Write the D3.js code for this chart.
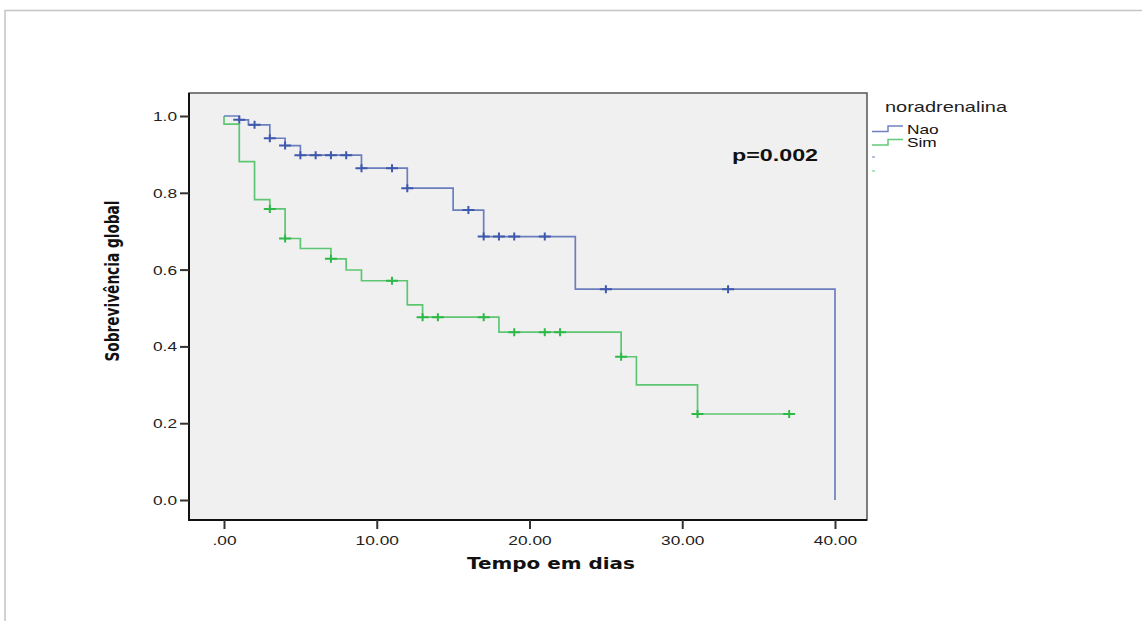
<!DOCTYPE html>
<html>
<head>
<meta charset="utf-8">
<script src="https://cdn.jsdelivr.net/npm/d3@7"></script>
<style>
  body { margin: 0; background: #fff; }
  svg { display: block; }
</style>
</head>
<body>
<div id="chart"></div>
<script>
// Kaplan-Meier steps: [time, survival after the event]
const naoSteps = [[0, 1.0], [1, 0.99], [1.6, 0.977], [3, 0.942], [4, 0.923], [5, 0.898],
                  [9, 0.864], [12, 0.812], [15, 0.755], [17, 0.686], [23, 0.549], [40, 0.0]];
const naoCensored = [1, 2, 3, 4, 5, 6, 7, 8, 9, 11, 12, 16, 17, 18, 19, 21, 25, 33];

const simSteps = [[0, 1.0], [0, 0.979], [1, 0.881], [2, 0.782], [3, 0.758], [4, 0.681],
                  [5, 0.655], [7, 0.628], [8, 0.599], [9, 0.571], [12, 0.508], [13, 0.476],
                  [18, 0.437], [26, 0.373], [27, 0.300], [31, 0.224], [37, 0.224]];
const simCensored = [3, 4, 7, 11, 13, 14, 17, 19, 21, 22, 26, 31, 37];

const groups = ['Nao', 'Sim'];
const xTicks = [0, 10, 20, 30, 40];
const yTicks = [0, 0.2, 0.4, 0.6, 0.8, 1.0];

const W = 1142, H = 621;
const plot = { left: 189, right: 867, top: 93, bottom: 520 };
const colors = { Nao: '#3e58ac', Sim: '#2eb848' };
const STRETCH = 1.33; // the source picture is widened horizontally

const svg = d3.select('#chart').append('svg')
    .attr('width', W)
    .attr('height', H);

// outer frame of the original output
svg.append('path')
    .attr('d', `M5,${H} V10.5 H${W}`)
    .attr('fill', 'none')
    .attr('stroke', '#c4c4c4')
    .attr('stroke-width', 1.5);

const x = d3.scaleLinear().domain([0, 40]).range([224, 835]);
const y = d3.scaleLinear().domain([0, 1]).range([500, 116]);

function stretch(sel, k) {
    sel.each(function () {
        const w = this.getComputedTextLength();
        d3.select(this).attr('textLength', w * k).attr('lengthAdjust', 'spacingAndGlyphs');
    });
}

svg.append('rect')
    .attr('x', plot.left)
    .attr('y', plot.top)
    .attr('width', plot.right - plot.left)
    .attr('height', plot.bottom - plot.top)
    .attr('fill', '#f0f0f0')
    .attr('stroke', '#555')
    .attr('stroke-width', 1.5);

svg.append('path')
    .attr('d', `M${plot.left},${plot.top} V${plot.bottom} H${plot.right}`)
    .attr('fill', 'none')
    .attr('stroke', '#111')
    .attr('stroke-width', 2);

// axes
const yAxis = svg.append('g')
    .attr('transform', `translate(${plot.left},0)`)
    .call(d3.axisLeft(y).tickValues(yTicks).tickFormat(d3.format('.1f')).tickSize(9).tickPadding(3));

const xAxis = svg.append('g')
    .attr('transform', `translate(0,${plot.bottom})`)
    .call(d3.axisBottom(x).tickValues(xTicks)
        .tickFormat(d => d === 0 ? '.00' : d3.format('.2f')(d)).tickSize(9).tickPadding(4));

[yAxis, xAxis].forEach(g => {
    g.select('.domain').remove();
    g.selectAll('.tick line').attr('stroke', '#333').attr('stroke-width', 2);
    g.selectAll('.tick text')
        .attr('fill', '#222')
        .style('font-family', '"Liberation Sans", Arial, sans-serif')
        .style('font-size', '13px');
});
yAxis.selectAll('.tick text').attr('dy', '0.35em');
xAxis.selectAll('.tick text').attr('dy', '0.9em');
stretch(yAxis.selectAll('.tick text'), STRETCH);
stretch(xAxis.selectAll('.tick text'), STRETCH);

// survival curves
const line = d3.line()
    .x(d => x(d[0]))
    .y(d => y(d[1]))
    .curve(d3.curveStepAfter);

function survivalAt(steps, t) {
    let s = 1;
    steps.forEach(d => { if (d[0] <= t) s = d[1]; });
    return s;
}

const series = [
    { name: 'Nao', steps: naoSteps, censored: naoCensored },
    { name: 'Sim', steps: simSteps, censored: simCensored }
];

series.forEach(sr => {
    svg.append('path')
        .datum(sr.steps)
        .attr('d', line)
        .attr('fill', 'none')
        .attr('stroke', colors[sr.name])
        .attr('stroke-opacity', 0.75)
        .attr('stroke-width', 1.7);

    const marks = svg.append('g');
    sr.censored.forEach(t => {
        const cx = x(t), cy = y(survivalAt(sr.steps, t));
        marks.append('path')
            .attr('d', `M${cx - 6},${cy} H${cx + 6} M${cx},${cy - 4} V${cy + 4}`)
            .attr('stroke', colors[sr.name])
            .attr('stroke-width', 2);
    });
});

// axis titles and annotation
const yTitle = svg.append('text')
    .attr('transform', 'translate(119,281) rotate(-90)')
    .attr('text-anchor', 'middle')
    .style('font-family', '"Liberation Sans Narrow", "DejaVu Sans Condensed", sans-serif')
    .style('font-weight', 'bold')
    .style('font-size', '19px')
    .attr('fill', '#111')
    .text('Sobrevivência global');
yTitle.attr('textLength', 161).attr('lengthAdjust', 'spacingAndGlyphs');

const xTitle = svg.append('text')
    .attr('x', 551)
    .attr('y', 569)
    .attr('text-anchor', 'middle')
    .style('font-family', '"DejaVu Sans", Verdana, sans-serif')
    .style('font-weight', 'bold')
    .style('font-size', '15px')
    .attr('fill', '#111')
    .text('Tempo em dias');
stretch(xTitle, STRETCH);

const pText = svg.append('text')
    .attr('x', 732)
    .attr('y', 161)
    .style('font-family', '"Liberation Sans", Arial, sans-serif')
    .style('font-weight', 'bold')
    .style('font-size', '16px')
    .attr('fill', '#111')
    .text('p=0.002');
pText.attr('textLength', 86).attr('lengthAdjust', 'spacingAndGlyphs');

// legend
const legendTitle = svg.append('text')
    .attr('x', 885)
    .attr('y', 112)
    .style('font-family', '"Liberation Sans", Arial, sans-serif')
    .style('font-size', '15px')
    .attr('fill', '#222')
    .text('noradrenalina');
stretch(legendTitle, STRETCH);

groups.forEach((g, i) => {
    const ly = 131.5 + i * 13.5;
    svg.append('path')
        .attr('d', `M872,${ly} H888 V${ly - 5.5} H903`)
        .attr('fill', 'none')
        .attr('stroke', colors[g])
        .attr('stroke-opacity', 0.75)
        .attr('stroke-width', 1.5);
    const t = svg.append('text')
        .attr('x', 907)
        .attr('y', ly + 2)
        .style('font-family', '"Liberation Sans", Arial, sans-serif')
        .style('font-size', '13px')
        .attr('fill', '#111')
        .text(g);
    stretch(t, STRETCH);
    // clipped censor entries of the original legend
    svg.append('path')
        .attr('d', `M872,${157 + i * 14} H875`)
        .attr('stroke', colors[g])
        .attr('stroke-opacity', 0.5)
        .attr('stroke-width', 1.5);
});
</script>
</body>
</html>
